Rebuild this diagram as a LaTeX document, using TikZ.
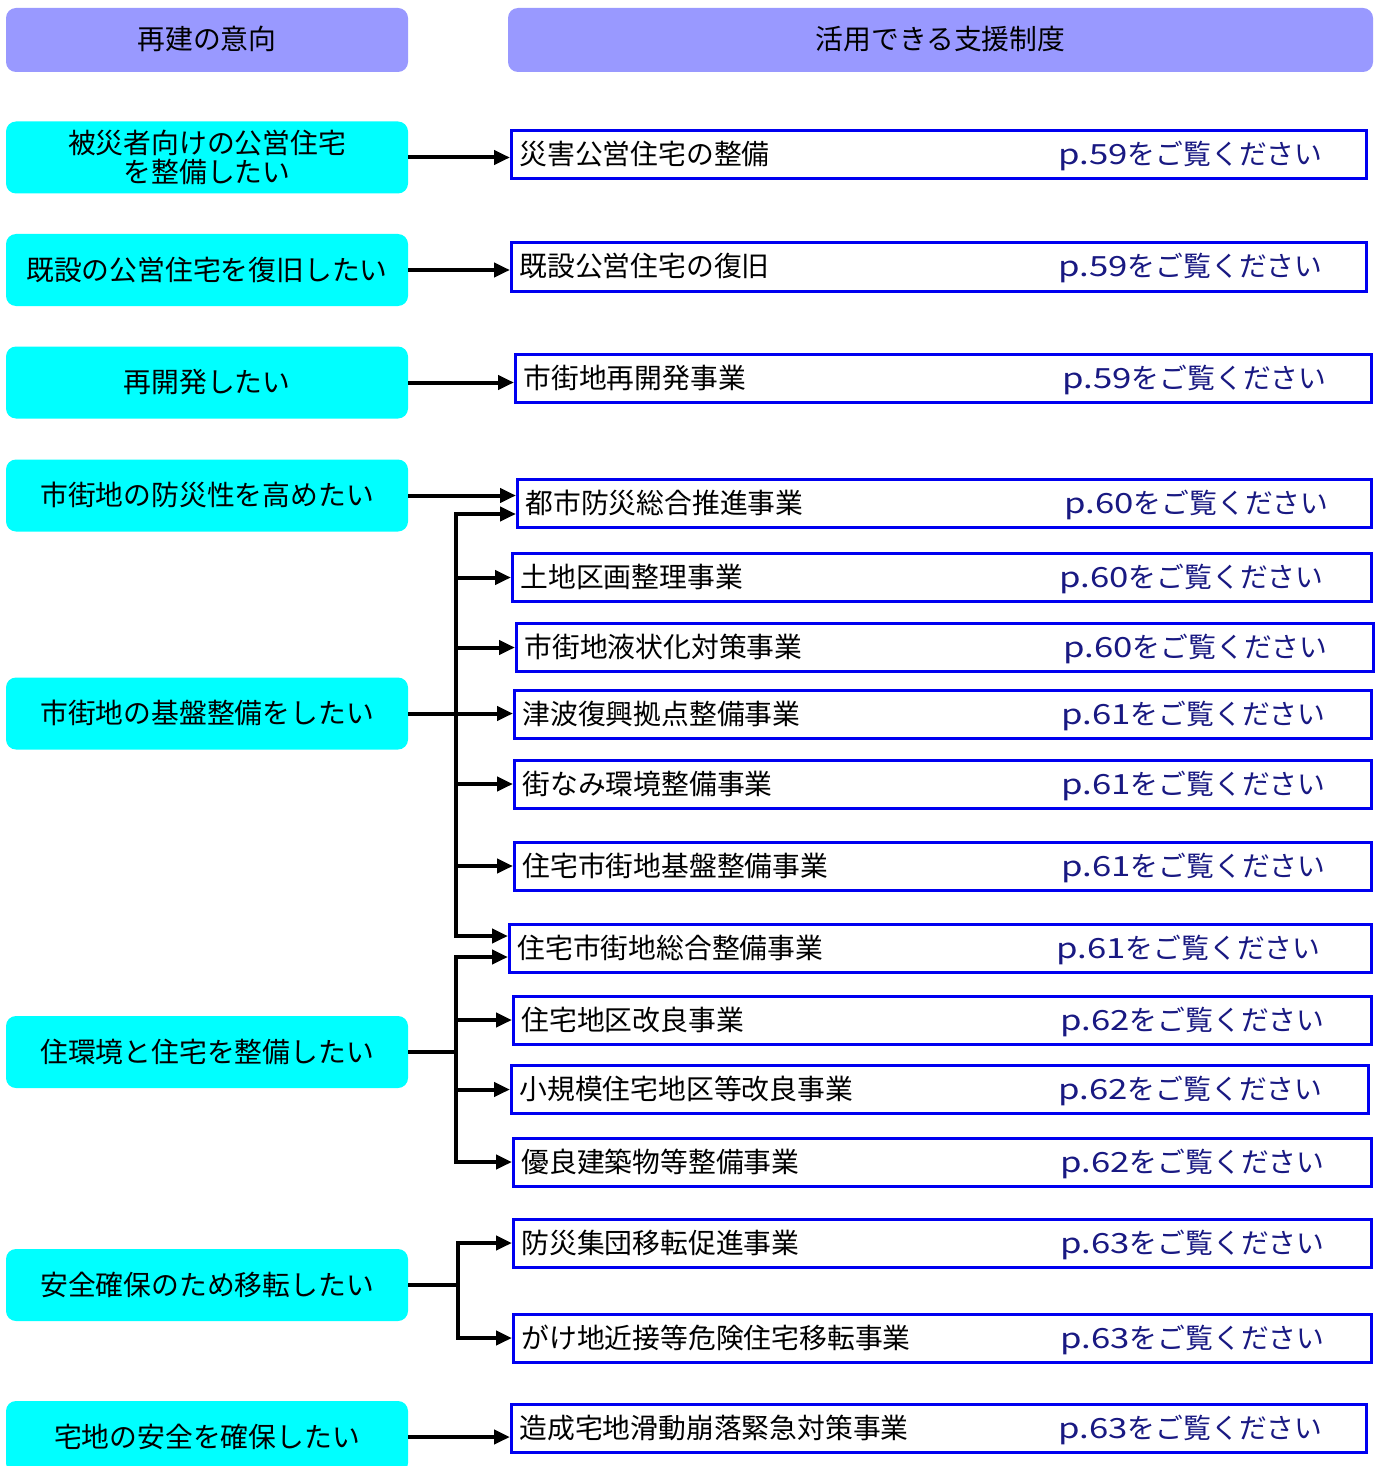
\documentclass[tikz,border=0pt]{standalone}
\usepackage{fontspec}
\usepackage{graphicx}
\setmainfont{Noto Sans CJK JP}
\usetikzlibrary{arrows.meta}
\definecolor{hdr}{HTML}{9999FF}
\definecolor{want}{HTML}{00FFFF}
\definecolor{pblue}{HTML}{0000F0}
\definecolor{pref}{RGB}{25,25,130}
\tikzset{
 jfont/.style={font=\fontsize{13.9pt}{14.6pt}\selectfont},
 jtext/.style={jfont, inner sep=0pt, text height=1.0em, text depth=0em},
 hdrbox/.style={fill=hdr, rounded corners=5pt, minimum width=201pt, minimum height=32pt, jtext},
 wantbox/.style={fill=want, rounded corners=5pt, minimum width=201pt, minimum height=36pt, jtext},
 wantboxtwo/.style={fill=want, rounded corners=5pt, minimum width=201pt, minimum height=36pt, jfont, inner sep=0pt, align=center},
 progbox/.style={draw=pblue, line width=1.5pt, fill=white, minimum height=24pt, inner sep=0pt},
 ptext/.style={jtext, anchor=west},
 reftext/.style={jtext, anchor=west, text=pref},
 link/.style={line width=2pt, draw=black},
 arr/.style={link, -{Triangle[length=8pt,width=7pt]}},
}
\newcommand\pgref[1]{\scalebox{1.25}[1]{p.#1}をご覧ください}
\newcommand\progbox[6]{%
 \node[progbox, minimum width=#4*0.5pt] (#1) at (#2,#3) {};
 \node[ptext] at ([xshift=4.5pt]#1.west) {#5};
 \node[reftext] at ([xshift=274pt]#1.west) {\pgref{#6}};
}
\begin{document}
\begin{tikzpicture}[x=0.5pt,y=-0.5pt]
\clip (0,0) rectangle (1381,1466);
\fill[white] (0,0) rectangle (1381,1466);
% headers
\node[hdrbox] (h1) at (207,40) {再建の意向};
\node[hdrbox, minimum width=432.5pt] (h2) at (940.5,40) {活用できる支援制度};
% left boxes
\node[wantboxtwo] (l1) at (207,157.5) {被災者向けの公営住宅\\を整備したい};
\node[wantbox] (l2) at (207,270) {既設の公営住宅を復旧したい};
\node[wantbox] (l3) at (207,382.5) {再開発したい};
\node[wantbox] (l4) at (207,495.5) {市街地の防災性を高めたい};
\node[wantbox] (l5) at (207,713.5) {市街地の基盤整備をしたい};
\node[wantbox] (l6) at (207,1052) {住環境と住宅を整備したい};
\node[wantbox] (l7) at (207,1285) {安全確保のため移転したい};
\node[wantbox] (l8) at (207,1437) {宅地の安全を確保したい};
% right boxes
\progbox{r1}{939}{155}{855}{災害公営住宅の整備}{59}
\progbox{r2}{939}{267}{855}{既設公営住宅の復旧}{59}
\progbox{r3}{943.5}{378}{856}{市街地再開発事業}{59}
\progbox{r4}{944.5}{503.5}{854}{都市防災総合推進事業}{60}
\progbox{r5}{942}{577.5}{859}{土地区画整理事業}{60}
\progbox{r6}{945}{647.5}{857}{市街地液状化対策事業}{60}
\progbox{r7}{943}{714}{857}{津波復興拠点整備事業}{61}
\progbox{r8}{943}{784}{857}{街なみ環境整備事業}{61}
\progbox{r9}{943}{866}{857}{住宅市街地基盤整備事業}{61}
\progbox{r10}{940.5}{948}{862}{住宅市街地総合整備事業}{61}
\progbox{r11}{942.5}{1020}{858}{住宅地区改良事業}{62}
\progbox{r12}{940}{1089.5}{857}{小規模住宅地区等改良事業}{62}
\progbox{r13}{942.5}{1162}{858}{優良建築物等整備事業}{62}
\progbox{r14}{942.5}{1243}{858}{防災集団移転促進事業}{63}
\progbox{r15}{942.5}{1338}{858}{がけ地近接等危険住宅移転事業}{63}
\progbox{r16}{939}{1428}{855}{造成宅地滑動崩落緊急対策事業}{63}
% direct arrows
\draw[arr] (l1.east) -- (l1.east -| r1.west);
\draw[arr] (l2.east) -- (l2.east -| r2.west);
\draw[arr] (l3.east) -- (l3.east -| r3.west);
\draw[arr] (l4.east) -- (l4.east -| r4.west);
\draw[arr] (l8.east) -- (l8.east -| r16.west);
% trunk x positions
\coordinate (xa) at (456,0);
\coordinate (xb) at (458,0);
\coordinate (j5) at (l5.east -| xa);
\coordinate (j6) at (l6.east -| xa);
\coordinate (j7) at (l7.east -| xb);
% group 5
\draw[link] (l5.east) -- (j5);
\draw[arr] (j5) |- ([yshift=-5.25pt]r4.west);
\draw[arr] (j5) |- ([yshift=6pt]r10.west);
\draw[arr] (j5 |- r5.west) -- (r5.west);
\draw[arr] (j5 |- r6.west) -- (r6.west);
\draw[arr] (j5) -- (j5 -| r7.west);
\draw[arr] (j5 |- r8.west) -- (r8.west);
\draw[arr] (j5 |- r9.west) -- (r9.west);
% group 6
\draw[link] (l6.east) -- (j6);
\draw[arr] (j6) |- ([yshift=-4.5pt]r10.west);
\draw[arr] (j6) |- (r13.west);
\draw[arr] (j6 |- r11.west) -- (r11.west);
\draw[arr] (j6 |- r12.west) -- (r12.west);
% group 7
\draw[link] (l7.east) -- (j7);
\draw[arr] (j7) |- (r14.west);
\draw[arr] (j7) |- (r15.west);
\end{tikzpicture}
\end{document}
